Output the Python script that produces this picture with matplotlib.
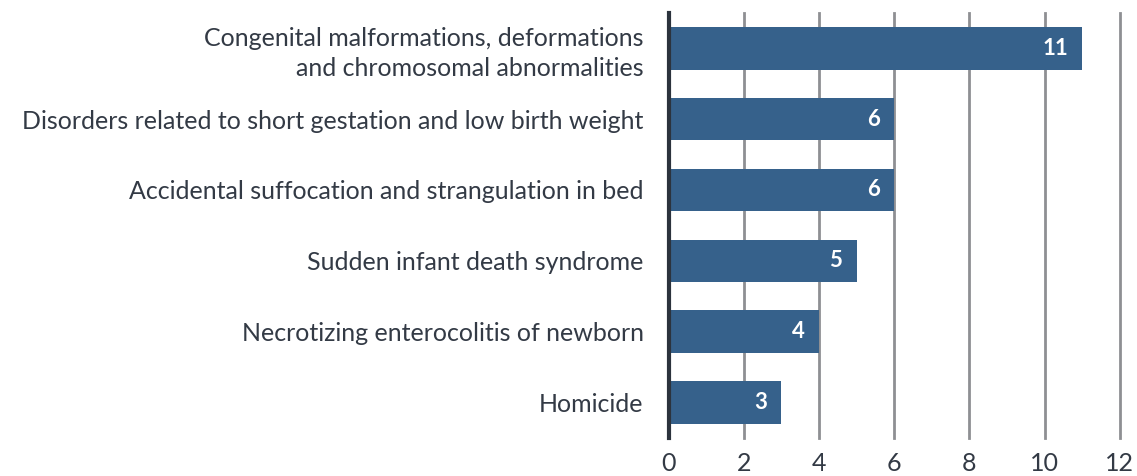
import matplotlib
matplotlib.use("Agg")
import matplotlib.pyplot as plt

categories = [
    "Congenital malformations, deformations\nand chromosomal abnormalities",
    "Disorders related to short gestation and low birth weight",
    "Accidental suffocation and strangulation in bed",
    "Sudden infant death syndrome",
    "Necrotizing enterocolitis of newborn",
    "Homicide",
]
values = [11, 6, 6, 5, 4, 3]
xticks = [0, 2, 4, 6, 8, 10, 12]

plt.rcParams['font.family'] = ['Lato', 'DejaVu Sans']
text_color = "#333a45"
bar_color = "#36618b"

fig = plt.figure(figsize=(11.37, 4.76), dpi=100)
ax = fig.add_axes([0.588, 0.080, 0.397, 0.893])

y = list(range(len(categories)))
ax.set_axisbelow(True)
for t in xticks[1:]:
    ax.axvline(t, color="#8e8f93", lw=2, zorder=0, clip_on=False)
bars = ax.barh(y, values, height=0.6, color=bar_color, zorder=2)
ax.axvline(0, color="#2c333d", lw=3, zorder=3, clip_on=False)

for yi, v in zip(y, values):
    ax.text(v - 0.38, yi, str(v), ha="right", va="center", color="white",
            fontsize=16, fontweight="bold", zorder=4)

ax.set_xlim(0, 12)
ax.set_ylim(5.5, -0.5)
ax.set_xticks(xticks)
ax.set_xticklabels([str(t) for t in xticks], fontsize=18, color=text_color)
ax.set_yticks(y)
ax.set_yticklabels(categories, fontsize=18, color=text_color, linespacing=1.35)
ax.tick_params(axis="both", length=0)
ax.tick_params(axis="y", pad=18)
ax.tick_params(axis="x", pad=10)
for s in ax.spines.values():
    s.set_visible(False)

fig.savefig("out.png", dpi=100)
